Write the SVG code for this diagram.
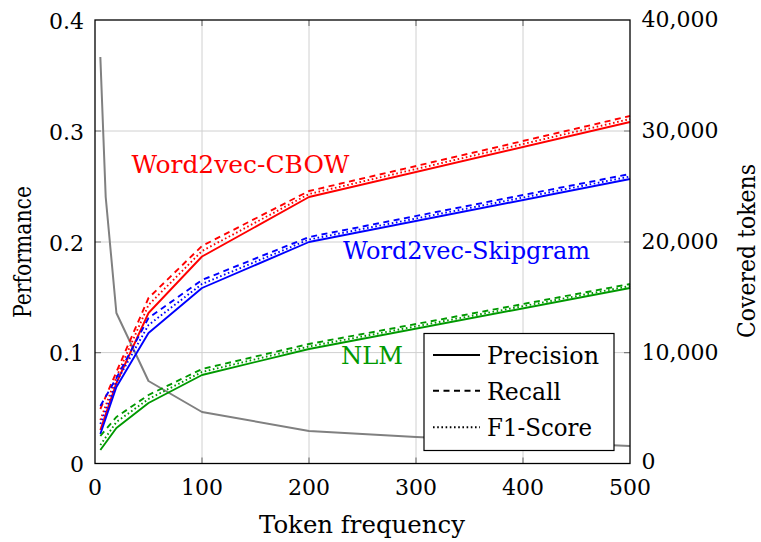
<svg xmlns="http://www.w3.org/2000/svg" width="761" height="542" viewBox="0 0 761 542" font-family="DejaVu Serif, serif">
<style>
.t{font-family:"DejaVu Serif","Liberation Serif",serif}
.tick{font-size:22px}
.grid{stroke:#d0d0d0;stroke-width:1;fill:none}
.tk{stroke:#7a7a7a;stroke-width:1.2}
.c{fill:none;stroke-width:1.9;stroke-linejoin:round}
.r{stroke-dasharray:6 4.5}
.f{stroke-dasharray:1.6 2.6}
.red{stroke:#ff0000}
.blue{stroke:#0000ff}
.green{stroke:#009900}
</style>
<rect width="761" height="542" fill="#fff"/>
<g id="grid">
<path class="grid" d="M202 20V463.5M309 20V463.5M416 20V463.5M523 20V463.5M95 131H630M95 242H630M95 352.6H630"/>
<path class="tk" d="M202 463.5v-6M309 463.5v-6M416 463.5v-6M523 463.5v-6M202 20v6M309 20v6M416 20v6M523 20v6M95 131h6M95 242h6M95 352.6h6M630 131h-6M630 242h-6M630 352.6h-6"/>
</g>
<g id="coverage">
<polyline fill="none" stroke="#808080" stroke-width="2" stroke-linejoin="round" points="100.35,57 105.7,197 116.4,313 148.5,381 202,412 309,431 416,437 630,446"/>
</g>
<g id="cbow">
<polyline class="c red" points="100.35,430 116.4,383 148.5,313 202,256.5 309,197 630,122"/>
<polyline class="c r red" points="100.35,409 116.4,372 148.5,298 202,246 309,191 630,116"/>
<polyline class="c f red" points="100.35,420 116.4,377 148.5,305 202,251 309,194 630,119"/>
</g>
<g id="skipgram">
<polyline class="c blue" points="100.35,434 116.4,387 148.5,333 202,288 309,242 630,179"/>
<polyline class="c r blue" points="100.35,406 116.4,378 148.5,318 202,280 309,237 630,174"/>
<polyline class="c f blue" points="100.35,424 116.4,382 148.5,325 202,284 309,239.5 630,176.5"/>
</g>
<g id="nlm">
<polyline class="c green" points="100.35,450 116.4,428 148.5,403 202,375 309,349 630,288"/>
<polyline class="c r green" points="100.35,436 116.4,417 148.5,395 202,369 309,344 630,284"/>
<polyline class="c f green" points="100.35,445 116.4,422 148.5,399 202,372 309,346.5 630,286"/>
</g>
<rect id="frame" x="95" y="20" width="535" height="443.5" fill="none" stroke="#000" stroke-width="1.3"/>
<g id="labels">
<text class="t" x="131.5" y="172.5" font-size="25" fill="#ff0000" textLength="218" lengthAdjust="spacingAndGlyphs">Word2vec-CBOW</text>
<text class="t" x="343" y="258.5" font-size="25" fill="#0000ff" textLength="247" lengthAdjust="spacingAndGlyphs">Word2vec-Skipgram</text>
<text class="t" x="341" y="364" font-size="25" fill="#009900" textLength="62" lengthAdjust="spacingAndGlyphs">NLM</text>
</g>
<g id="legend">
<rect x="424" y="333.5" width="190" height="117" fill="#fff" stroke="#000" stroke-width="1.2"/>
<line x1="433" y1="355" x2="480" y2="355" stroke="#000" stroke-width="1.9"/>
<line x1="433" y1="390.7" x2="480" y2="390.7" stroke="#000" stroke-width="1.9" stroke-dasharray="6 4.5"/>
<line x1="433" y1="427.3" x2="480" y2="427.3" stroke="#000" stroke-width="1.9" stroke-dasharray="1.6 2.6"/>
<text class="t" x="487" y="363.5" font-size="24" textLength="112" lengthAdjust="spacingAndGlyphs">Precision</text>
<text class="t" x="487" y="399.5" font-size="24" textLength="74" lengthAdjust="spacingAndGlyphs">Recall</text>
<text class="t" x="487" y="435.5" font-size="24" textLength="105" lengthAdjust="spacingAndGlyphs">F1-Score</text>
</g>
<g id="left-axis" class="tick" text-anchor="end">
<text class="t" x="84" y="29">0.4</text>
<text class="t" x="84" y="140">0.3</text>
<text class="t" x="84" y="251">0.2</text>
<text class="t" x="84" y="361">0.1</text>
<text class="t" x="84" y="472">0</text>
</g>
<g id="right-axis" class="tick">
<text class="t" x="641.5" y="27">40,000</text>
<text class="t" x="641.5" y="138">30,000</text>
<text class="t" x="641.5" y="249">20,000</text>
<text class="t" x="641.5" y="359.5">10,000</text>
<text class="t" x="641.5" y="469">0</text>
</g>
<g id="bottom-axis" class="tick" text-anchor="middle">
<text class="t" x="95" y="495">0</text>
<text class="t" x="202" y="495">100</text>
<text class="t" x="309" y="495">200</text>
<text class="t" x="416" y="495">300</text>
<text class="t" x="523" y="495">400</text>
<text class="t" x="630" y="495">500</text>
</g>
<g id="axis-titles" font-size="24">
<text class="t" x="362" y="533" text-anchor="middle" textLength="206" lengthAdjust="spacingAndGlyphs">Token frequency</text>
<text class="t" transform="translate(31,252) rotate(-90)" text-anchor="middle" textLength="132" lengthAdjust="spacingAndGlyphs">Performance</text>
<text class="t" transform="translate(755,251) rotate(-90)" text-anchor="middle" textLength="174" lengthAdjust="spacingAndGlyphs">Covered tokens</text>
</g>
</svg>
